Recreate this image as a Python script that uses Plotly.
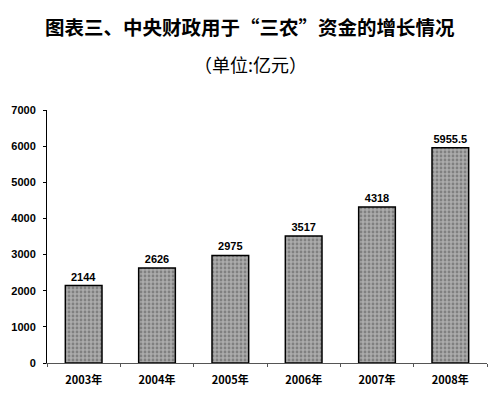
import plotly.graph_objects as go

years = ["2003年", "2004年", "2005年", "2006年", "2007年", "2008年"]
funds = [2144, 2626, 2975, 3517, 4318, 5955.5]
y_ticks = [0, 1000, 2000, 3000, 4000, 5000, 6000, 7000]
title_text = "图表三、中央财政用于“三农”资金的增长情况"
subtitle_text = "（单位:亿元）"

num_font = "Liberation Sans, Arial, Noto Sans CJK SC, sans-serif"
cjk_font = "Noto Sans CJK SC, sans-serif"

fig = go.Figure()
fig.add_trace(go.Bar(
    x=years,
    y=funds,
    text=[f"{v:g}" for v in funds],
    textposition="outside",
    textfont=dict(family=num_font, size=11, color="black", weight="bold"),
    cliponaxis=False,
    marker=dict(
        color="#a0a0a0",
        line=dict(color="black", width=1.5),
        pattern=dict(shape=".", fgcolor="#555555", bgcolor="#ababab", size=4, solidity=0.4),
    ),
))

# the page body has an 8px default margin, so the figure is offset by 8px
ph = 253
fig.update_layout(
    width=492,
    height=387,
    margin=dict(l=39, r=13, t=102, b=32, autoexpand=False),
    paper_bgcolor="white",
    plot_bgcolor="white",
    bargap=0.5,
    showlegend=False,
    font=dict(family=num_font, color="black"),
    annotations=[
        dict(text=title_text, x=(250 - 47) / 440, y=(363 - 27) / ph, xref="paper", yref="paper",
             showarrow=False, xanchor="center", yanchor="middle",
             font=dict(family=cjk_font, size=19.5, color="black", weight="bold")),
        dict(text=subtitle_text, x=(250 - 47) / 440, y=(363 - 64) / ph, xref="paper", yref="paper",
             showarrow=False, xanchor="center", yanchor="middle",
             font=dict(family=cjk_font, size=18, color="black")),
    ],
)

fig.update_yaxes(
    range=[0, 7000],
    tickvals=y_ticks,
    ticks="outside",
    ticklen=3,
    tickcolor="black",
    ticklabelstandoff=5,
    automargin=False,
    showline=True,
    linecolor="black",
    linewidth=1,
    showgrid=False,
    zeroline=False,
    tickfont=dict(family=num_font, size=11, color="black", weight="bold"),
)
fig.update_xaxes(
    range=[-0.5, 5.5],
    showline=True,
    linecolor="#555555",
    linewidth=1,
    ticks="outside",
    tickson="boundaries",
    ticklen=3,
    tickcolor="#555555",
    ticklabelstandoff=7,
    automargin=False,
    showgrid=False,
    tickfont=dict(family=cjk_font, size=11, color="black", weight="bold"),
)

fig.write_html("out.html")
